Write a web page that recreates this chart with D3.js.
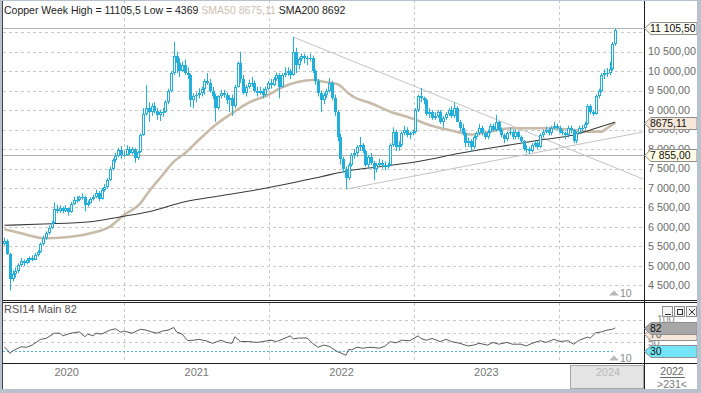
<!DOCTYPE html>
<html><head><meta charset="utf-8">
<script src="https://cdn.jsdelivr.net/npm/d3@7"></script>
<style>
html,body{margin:0;padding:0;background:#fff;}
svg{display:block;font-family:"Liberation Sans",Arial,sans-serif;}
</style></head><body>
<svg id="c" width="701" height="393"></svg>
<script>
// ---------- DATA (weekly candles, first week = week of 2 Mar 2020) ----------
const firstWeekMidpoint = "2020-03-04T12:00:00";
const opens = [5560,5650,5310,4660,4780,4860,5010,5120,5070,5150,
5190,5160,5290,5360,5560,5720,5850,5980,6100,6450,
6400,6480,6420,6480,6380,6600,6700,6680,6760,6780,
6560,6620,6720,6760,6880,6720,6950,7020,7200,7480,
7720,7820,7980,7850,7850,8010,7900,8000,7780,7920,
8350,8900,9050,8950,9100,8980,8880,8950,8950,9200,
9500,9950,10400,10200,10000,10150,9950,9900,9250,9350,
9400,9450,9550,9750,9700,9500,9350,9050,9350,9450,
9400,9250,9300,9100,9600,10200,9800,9450,9600,9700,
9700,9500,9450,9500,9400,9550,9700,9650,9800,9900,
9600,9900,9950,10000,9900,10500,10150,10300,10400,10350,
10300,10350,10000,9750,9450,9250,9400,9500,9700,9300,
8950,8300,7750,7500,7250,7600,7850,7900,8050,8100,
7950,7600,7800,7650,7500,7600,7650,7600,7550,7600,
8100,8450,8050,8100,8400,8500,8350,8400,8450,9000,
9350,9300,9250,8900,8950,8800,8850,8950,8700,8800,
8900,9000,8850,9050,8700,8550,8400,8150,8200,8050,
8300,8400,8550,8400,8300,8450,8600,8500,8700,8500,
8350,8250,8400,8450,8300,8450,8300,8200,8000,8000,
7950,8100,8150,8050,8350,8450,8500,8400,8550,8600,
8550,8450,8400,8350,8550,8500,8200,8400,8550,8550,
8650,9100,8950,8900,9350,9500,9900,9950,9950,10050,
10700];
const highs = [5720,5680,5330,4880,4950,5060,5200,5160,5200,5240,
5270,5330,5400,5600,5780,5890,6030,6150,6630,6570,
6560,6520,6560,6500,6640,6780,6790,6800,6860,6800,
6680,6760,6830,6960,6920,7000,7100,7250,7550,7760,
7900,8030,8080,7950,8100,8060,8050,8020,7950,8400,
9050,9640,9200,9180,9200,9050,9010,9050,9250,9550,
10000,10757,10500,10330,10250,10300,10100,9940,9430,9450,
9560,9600,9800,9950,9800,9600,9420,9380,9520,9520,
9450,9380,9400,9650,10250,10500,9900,9650,9780,9850,
9760,9600,9600,9560,9600,9750,9800,9850,9960,9950,
9950,10100,10100,10050,10878,10600,10350,10460,10450,10400,
10450,10400,10050,9800,9500,9450,9550,9825,9750,9400,
9000,8400,7800,7550,7650,7900,8000,8100,8310,8150,
7980,7850,7900,7700,7650,7750,7720,7680,7650,8150,
8560,8500,8200,8450,8600,8560,8450,8500,9050,9400,
9570,9350,9300,9050,9000,8950,9000,9000,8850,8950,
9050,9100,9200,9100,8750,8650,8450,8300,8250,8350,
8450,8650,8600,8450,8500,8650,8650,8880,8720,8550,
8400,8450,8550,8500,8500,8480,8350,8230,8100,8050,
8150,8200,8200,8400,8500,8580,8550,8600,8700,8650,
8600,8500,8450,8600,8600,8520,8450,8600,8620,8700,
9150,9150,9000,9400,9550,9950,10050,10080,10240,10750,
11105.5];
const lows = [5520,5280,4369,4600,4700,4820,4980,4990,5040,5080,
5120,5140,5240,5330,5520,5660,5800,5950,6090,6350,
6360,6350,6380,6290,6360,6560,6620,6650,6700,6400,
6520,6600,6680,6740,6660,6700,6900,6990,7180,7450,
7650,7800,7750,7800,7830,7850,7860,7650,7720,7900,
8340,8860,8700,8850,8920,8750,8720,8830,8930,9150,
9460,9900,9950,9850,9980,9900,9800,9080,9050,9200,
9300,9350,9400,9650,9450,9280,8700,9000,9300,9320,
9150,8950,8850,9050,9580,9700,9400,9350,9550,9600,
9450,9350,9400,9300,9350,9520,9550,9620,9750,9300,
9580,9850,9880,9800,9880,9950,10050,10250,10200,10150,
10250,9950,9650,9350,8950,9150,9300,9450,9250,8850,
8200,7600,7400,6970,7200,7550,7750,7800,7950,7900,
7550,7500,7600,7200,7400,7550,7500,7450,7500,7580,
8050,7950,7950,8050,8350,8300,8250,8350,8400,8950,
9200,9150,8850,8800,8750,8750,8800,8650,8550,8750,
8850,8800,8800,8700,8450,8350,8050,8050,7930,8000,
8250,8350,8350,8250,8250,8400,8450,8450,8450,8300,
8150,8200,8350,8250,8250,8250,8150,7950,7900,7870,
7920,8050,8000,8020,8300,8400,8350,8350,8500,8500,
8400,8350,8250,8300,8400,8150,8150,8380,8450,8500,
8620,8900,8850,8880,9300,9450,9800,9850,9900,10000,
10650];
const closes = [5650,5310,4660,4780,4860,5010,5120,5070,5150,5190,
5160,5290,5360,5560,5720,5850,5980,6100,6450,6400,
6480,6420,6480,6380,6600,6700,6680,6760,6780,6560,
6620,6720,6760,6880,6720,6950,7020,7200,7480,7720,
7820,7980,7850,7850,8010,7900,8000,7780,7920,8350,
8900,9050,8950,9100,8980,8880,8950,8950,9200,9500,
9950,10400,10200,10000,10150,9950,9900,9250,9350,9400,
9450,9550,9750,9700,9500,9350,9050,9350,9450,9400,
9250,9300,9100,9600,10200,9800,9450,9600,9700,9700,
9500,9450,9500,9400,9550,9700,9650,9800,9900,9600,
9900,9950,10000,9900,10500,10150,10300,10400,10350,10300,
10350,10000,9750,9450,9250,9400,9500,9700,9300,8950,
8300,7750,7500,7250,7600,7850,7900,8050,8100,7950,
7600,7800,7650,7500,7600,7650,7600,7550,7600,8100,
8450,8050,8100,8400,8500,8350,8400,8450,9000,9350,
9300,9250,8900,8950,8800,8850,8950,8700,8800,8900,
9000,8850,9050,8700,8550,8400,8150,8200,8050,8300,
8400,8550,8400,8300,8450,8600,8500,8700,8500,8350,
8250,8400,8450,8300,8450,8300,8200,8000,8000,7950,
8100,8150,8050,8350,8450,8500,8400,8550,8600,8550,
8450,8400,8350,8550,8500,8200,8400,8550,8550,8650,
9100,8950,8900,9350,9500,9900,9950,9950,10050,10700,
11050];

const sma50Weeks  = [0,6,15,22,31,38,43,49,52,57,61,65,70,76,82,88,95,100,106,111,115,120,124,126,132,139,146,153,161,168,175,182,189,197,204,211,215,217,220];
const sma50Values = [5938,5836,5707,5733,5836,6005,6306,6606,6905,7333,7675,7891,8232,8618,8918,9190,9388,9586,9730,9774,9730,9663,9430,9330,9175,8959,8805,8618,8476,8374,8450,8533,8533,8533,8490,8446,8446,8533,8675];
const sma200Weeks  = [0,14,31,42,52,65,78,92,103,114,124,135,150,164,178,193,205,213,220];
const sma200Values = [6041,6075,6134,6262,6391,6648,6802,6966,7120,7290,7444,7546,7693,7891,8060,8232,8361,8533,8692];

const rsiWeeks  = [0,1,2,3,6,8,10,13,15,18,20,21,24,27,29,30,32,33,35,38,40,42,43,46,49,51,53,55,57,59,61,62,64,66,68,70,73,75,78,80,82,83,85,88,91,93,96,98,100,103,104,106,109,111,113,115,117,120,123,124,125,127,129,132,135,137,139,141,143,146,149,150,152,154,157,159,161,164,167,169,171,174,176,178,181,183,186,188,190,193,195,198,200,203,205,207,210,211,213,215,217,219,220];
const rsiValues = [38,33,24,30,39,38,43,56,58,70,70,64,70,73,62,68,64,70,68,77,80,72,75,70,79,77,73,70,75,77,83,73,68,53,54,56,52,47,54,49,47,62,51,51,49,51,54,51,56,64,57,59,59,47,38,43,40,28,20,33,32,38,36,38,36,40,51,48,54,53,64,58,54,58,51,56,51,47,41,43,47,43,49,45,49,45,45,41,47,53,49,56,51,53,45,54,61,59,71,73,77,79,82];

const trendFromWeek  = [104, 123];
const trendFromValue = [10878, 6970];
const trendToWeek    = [230, 230];
const trendToValue   = [7231, 8438];

const priceGrid   = [4500,5000,5500,6000,6500,7000,7500,8000,8500,9000,9500,10000,10500,11000];
const priceLabels = [4500,5000,5500,6000,6500,7000,7500,8000,8500,9000,9500,10000,10500];
const rsiGrid = [100,70,50];
const yearBoundaries = [2021,2022,2023,2024];
const yearLabels = [2020,2021,2022,2023];
const highValue = 11105.5, lowValue = 4369, sma50Last = 8675.11, sma200Last = 8692, levelValue = 7855, rsiLast = 82;

// ---------- SCALES ----------
const svg = d3.select("#c");
const X0 = 3, X1 = 644;
const xDomainStart = new Date(2020,2,1), xDomainEnd = new Date(2024,7,3);
const x = d3.scaleTime().domain([xDomainStart, xDomainEnd]).range([X0, X1]);
const base = new Date(firstWeekMidpoint);
const dateOf = i => new Date(base.getTime() + i*7*864e5);
const y = d3.scaleLinear().domain([4500,10500]).range([285.3,51.7]);
const yr = d3.scaleLinear().domain([0,100]).range([364,320]);
const loc = d3.formatLocale({decimal:",",thousands:" ",grouping:[3],currency:["",""]});
const fmt = loc.format(",.2f");

const BLUE = "#22afdc";
const GRID = "#c9c9c9";

// ---------- GRID ----------
const g = svg.append("g");
g.selectAll(".hg").data(priceGrid).join("line")
  .attr("x1",X0).attr("x2",X1).attr("y1",d=>Math.round(y(d))+0.5).attr("y2",d=>Math.round(y(d))+0.5)
  .attr("stroke",GRID).attr("stroke-dasharray","3,3");
yearBoundaries.forEach(yy=>{
  const xx = Math.round(x(new Date(yy,0,1)))+0.5;
  g.append("line").attr("x1",xx).attr("x2",xx).attr("y1",0).attr("y2",300).attr("stroke",GRID).attr("stroke-dasharray","3,3");
  g.append("line").attr("x1",xx).attr("x2",xx).attr("y1",303).attr("y2",363).attr("stroke",GRID).attr("stroke-dasharray","3,3");
});
rsiGrid.forEach(v=>{
  g.append("line").attr("x1",X0).attr("x2",X1).attr("y1",Math.round(yr(v))+0.5).attr("y2",Math.round(yr(v))+0.5)
   .attr("stroke",GRID).attr("stroke-dasharray","3,3");
});
const lastRsiX = x(dateOf(rsiWeeks[rsiWeeks.length-1]));
g.append("line").attr("x1",X0).attr("x2",lastRsiX).attr("y1",Math.round(yr(30))+0.5).attr("y2",Math.round(yr(30))+0.5)
  .attr("stroke","#4fb9d3").attr("stroke-dasharray","2,2");

// level lines
g.append("line").attr("x1",X0).attr("x2",X1).attr("y1",Math.round(y(highValue))+0.5).attr("y2",Math.round(y(highValue))+0.5).attr("stroke","#aeb7bb");
g.append("line").attr("x1",X0).attr("x2",X1).attr("y1",Math.round(y(levelValue))+0.5).attr("y2",Math.round(y(levelValue))+0.5).attr("stroke","#b0b0b0");

// trend lines
trendFromWeek.forEach((w,k)=>{
  g.append("line").attr("x1",x(dateOf(w))).attr("y1",y(trendFromValue[k]))
   .attr("x2",x(dateOf(trendToWeek[k]))).attr("y2",y(trendToValue[k]))
   .attr("stroke","#c4c4c4").attr("stroke-width",1);
});

// ---------- MOVING AVERAGES ----------
const lineP = d3.line().curve(d3.curveMonotoneX);
svg.append("path").attr("d", lineP(sma50Weeks.map((w,k)=>[x(dateOf(w)), y(sma50Values[k])])))
  .attr("fill","none").attr("stroke","#c9bba9").attr("stroke-width",2.6);
svg.append("path").attr("d", lineP(sma200Weeks.map((w,k)=>[x(dateOf(w)), y(sma200Values[k])])))
  .attr("fill","none").attr("stroke","#3a3a3a").attr("stroke-width",1.1);

// ---------- CANDLES ----------
const cg = svg.append("g");
closes.forEach((c,i)=>{
  const o = opens[i], h = highs[i], l = lows[i];
  const cx = Math.round(x(dateOf(i)));
  cg.append("line").attr("x1",cx+0.5).attr("x2",cx+0.5).attr("y1",y(h)).attr("y2",y(l)).attr("stroke",BLUE);
  const top = Math.round(y(Math.max(o,c))), bot = Math.round(y(Math.min(o,c)));
  const hh = Math.max(1, bot-top);
  if (c < o) {
    cg.append("rect").attr("x",cx-1).attr("y",top).attr("width",3).attr("height",hh).attr("fill",BLUE);
  } else {
    if (hh >= 3) {
      cg.append("rect").attr("x",cx-0.5).attr("y",top+0.5).attr("width",2).attr("height",hh-1)
        .attr("fill","#fff").attr("stroke",BLUE).attr("stroke-width",1);
    } else {
      cg.append("rect").attr("x",cx-1).attr("y",top).attr("width",3).attr("height",hh).attr("fill",BLUE);
    }
  }
});

// ---------- RSI ----------
svg.append("path").attr("d", d3.line()(rsiWeeks.map((w,k)=>[x(dateOf(w)), yr(rsiValues[k])])))
  .attr("fill","none").attr("stroke","#5a5a5a").attr("stroke-width",1);

// ---------- FRAME / SEPARATORS ----------
const dark = "#1e1e1e";
svg.append("rect").attr("x",X1+1).attr("y",0).attr("width",701-X1-1).attr("height",393).attr("fill","#fff");
svg.append("rect").attr("x",0).attr("y",364).attr("width",701).attr("height",29).attr("fill","#fff");
svg.append("line").attr("x1",X0).attr("x2",697).attr("y1",300.5).attr("y2",300.5).attr("stroke",dark);
svg.append("line").attr("x1",X0).attr("x2",697).attr("y1",302.5).attr("y2",302.5).attr("stroke",dark);
svg.append("line").attr("x1",X0).attr("x2",697).attr("y1",363.5).attr("y2",363.5).attr("stroke",dark);
svg.append("line").attr("x1",X1+0.5).attr("x2",X1+0.5).attr("y1",0).attr("y2",389).attr("stroke",dark);

// ---------- RIGHT AXIS LABELS ----------
const ax = svg.append("g").attr("font-size","10.8px").attr("fill","#6a6a6a");
priceLabels.forEach(v=>{
  ax.append("text").attr("x",648).attr("y",y(v)).attr("dy","0.35em").text(fmt(v));
});
function tag(cy, label, fill, tfill, stroke){
  const p = [[X1+0.5,cy],[651,cy-6],[697,cy-6],[697,cy+6],[651,cy+6]];
  svg.append("polygon").attr("points",p.map(d=>d.join(",")).join(" ")).attr("fill",fill).attr("stroke",stroke||"#8f8f8f");
  svg.append("text").attr("x",650).attr("y",cy).attr("dy","0.36em").attr("font-size","10.4px").attr("fill",tfill).text(label);
}
// high tag with cyan underline
svg.append("rect").attr("x",650).attr("y",Math.round(y(highValue))+4).attr("width",47).attr("height",3).attr("fill","#8fdbe6");
tag(Math.round(y(highValue))+0.5, fmt(highValue), "#fbfbf2", "#111");
tag(Math.round(y(sma50Last))+0.5, String(sma50Last).replace(".",","), "#f6e7d9", "#111");
tag(Math.round(y(levelValue))+0.5, fmt(levelValue), "#fffde6", "#111");

// RSI axis
const rax = svg.append("g").attr("font-size","10.5px").attr("fill","#8a8a8a");
rax.append("text").attr("x",657).attr("y",yr(100)-1).attr("dy","0.35em").text("100");
tag(Math.round(yr(70))+1.5, "70", "#f6e7d9", "#555");
rax.append("text").attr("x",648).attr("y",yr(50)).attr("dy","0.35em").text("50");
tag(Math.round(yr(rsiLast))+0.5, String(rsiLast), "#a7a7a7", "#111");
tag(Math.round(yr(30))+0.5, "30", "#73e5f6", "#111");
// window buttons
[662,674,686].forEach((bx,k)=>{
  svg.append("rect").attr("x",bx+0.5).attr("y",306.5).attr("width",10).attr("height",10).attr("fill","#f3f3f3").attr("stroke","#8c8c8c");
  if(k===0) svg.append("line").attr("x1",bx+3).attr("x2",bx+9).attr("y1",314.5).attr("y2",314.5).attr("stroke","#333");
  if(k===1) svg.append("rect").attr("x",bx+3.5).attr("y",309.5).attr("width",5).attr("height",5).attr("fill","none").attr("stroke","#333");
  if(k===2){ svg.append("line").attr("x1",bx+3).attr("x2",bx+9).attr("y1",309).attr("y2",315).attr("stroke","#333");
             svg.append("line").attr("x1",bx+9).attr("x2",bx+3).attr("y1",309).attr("y2",315).attr("stroke","#333"); }
});

// ▲10 markers
[[293.5],[358.5]].forEach(([cy])=>{
  svg.append("path").attr("d",`M609,${cy+2}L614,${cy-3}L619,${cy+2}Z`).attr("fill","#b8b8b8");
  svg.append("text").attr("x",620).attr("y",cy).attr("dy","0.35em").attr("font-size","10.5px").attr("fill","#8a8a8a").text("10");
});

// ---------- TIME AXIS ----------
const tx = svg.append("g").attr("font-size","11px").attr("fill","#777").attr("text-anchor","middle");
yearLabels.forEach(yy=>{
  const a = Math.max(X0, x(new Date(yy,0,1))), b = Math.min(X1, x(new Date(yy+1,0,1)));
  tx.append("text").attr("x",(a+b)/2 + (yy===2020?3:0)).attr("y",376).text(yy);
});
const x24 = Math.round(x(new Date(2024,0,1)))+11;
svg.append("rect").attr("x",x24+0.5).attr("y",365.5).attr("width",X1-x24-1).attr("height",23).attr("fill","#e4e4e4").attr("stroke","#a8a8a8");
svg.append("text").attr("x",(x24+X1)/2+1).attr("y",376).attr("text-anchor","middle").attr("font-size","11px").attr("fill","#b9b9b9").text("2024");
svg.append("text").attr("x",672).attr("y",375).attr("text-anchor","middle").attr("font-size","10.5px").attr("fill","#666").text("2022");
svg.append("line").attr("x1",660).attr("x2",685).attr("y1",377.5).attr("y2",377.5).attr("stroke","#666");
svg.append("text").attr("x",672).attr("y",388).attr("text-anchor","middle").attr("font-size","10.5px").attr("fill","#777").text(">231<");

// ---------- HEADER ----------
const ht = svg.append("text").attr("x",4).attr("y",14).attr("font-size","10.5px").attr("fill","#222");
ht.append("tspan").text(`Copper Week High = ${String(highValue).replace(".",",")} Low = ${lowValue} `);
ht.append("tspan").attr("fill","#cdbfae").text(`SMA50 ${String(sma50Last).replace(".",",")} `);
ht.append("tspan").text(`SMA200 ${sma200Last}`);
svg.append("text").attr("x",4).attr("y",313).attr("font-size","11px").attr("fill","#555").text(`RSI14 Main ${rsiLast}`);

// ---------- WINDOW FRAME ----------
const fr = "#b7c2ce";
svg.append("rect").attr("x",0).attr("y",0).attr("width",701).attr("height",1).attr("fill",fr);
svg.append("rect").attr("x",0).attr("y",0).attr("width",2).attr("height",393).attr("fill",fr);
svg.append("rect").attr("x",697).attr("y",0).attr("width",4).attr("height",393).attr("fill",fr);
svg.append("rect").attr("x",0).attr("y",389).attr("width",701).attr("height",4).attr("fill",fr);
svg.append("line").attr("x1",2.5).attr("x2",2.5).attr("y1",1).attr("y2",389).attr("stroke","#444");
</script></body></html>
